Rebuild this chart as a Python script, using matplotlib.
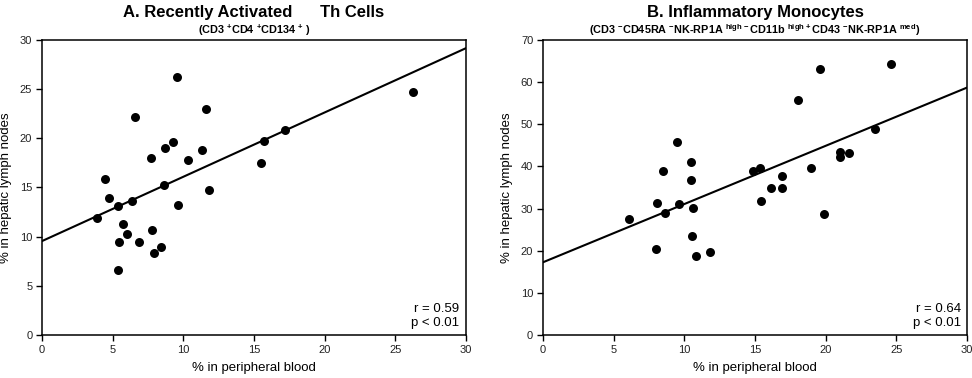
import matplotlib
matplotlib.use("Agg")
import matplotlib.pyplot as plt

plt.rcParams['font.family'] = ['Liberation Sans', 'DejaVu Sans']
plt.rcParams['mathtext.fontset'] = 'custom'
plt.rcParams['mathtext.rm'] = 'Liberation Sans:bold'
plt.rcParams['mathtext.it'] = 'Liberation Sans:bold'
plt.rcParams['mathtext.bf'] = 'Liberation Sans:bold'
plt.rcParams['mathtext.default'] = 'rm'

# -------------------------------------------------------------
# Data
# -------------------------------------------------------------
th_blood = [3.92, 4.48, 4.72, 5.38, 6.56, 6.37, 5.71, 6.01, 5.42, 5.38,
            6.86, 7.71, 7.78, 7.90, 8.44, 8.61, 8.70, 9.29, 9.55, 9.65,
            10.3, 11.3, 11.63, 11.79, 15.47, 15.68, 17.19, 26.27]
th_lymph = [11.86, 15.83, 13.9, 13.12, 22.2, 13.66, 11.29, 10.3, 9.46, 6.61,
            9.46, 18.0, 10.68, 8.37, 8.95, 15.22, 19.0, 19.63, 26.2, 13.19,
            17.8, 18.78, 23.0, 14.71, 17.49, 19.7, 20.8, 24.7]
th_fit = (9.55, 0.654)          # intercept, slope
th_stats = "r = 0.59\np < 0.01"

mono_blood = [6.08, 7.97, 8.09, 8.47, 8.61, 9.46, 9.60, 10.47, 10.47, 10.59,
              10.57, 10.85, 11.84, 14.83, 15.35, 15.42, 16.13, 16.93, 16.93, 18.02,
              18.94, 19.62, 19.90, 21.0, 21.0, 21.63, 23.51, 24.6]
mono_lymph = [27.45, 20.33, 31.4, 39.0, 28.96, 45.9, 31.1, 40.98, 36.87, 30.14,
              23.42, 18.75, 19.7, 38.84, 39.56, 31.72, 34.89, 37.74, 34.97, 55.78,
              39.72, 63.2, 28.7, 43.4, 42.2, 43.1, 48.8, 64.3]
mono_fit = (17.25, 1.382)
mono_stats = "r = 0.64\np < 0.01"

titles = ["A. Recently Activated      Th Cells", "B. Inflammatory Monocytes"]
subtitles = [r"(CD3 $^{+}$CD4 $^{+}$CD134 $^{+}$ )",
             r"(CD3 $^{-}$CD45RA $^{-}$NK-RP1A $^{high\,-}$CD11b $^{high\,+}$CD43 $^{-}$NK-RP1A $^{med}$)"]
ylims = [(0, 30), (0, 70)]
ysteps = [5, 10]
xticks = [0, 5, 10, 15, 20, 25, 30]

fig = plt.figure(figsize=(9.72, 3.78), dpi=100)
ax1 = fig.add_axes([0.0432, 0.1138, 0.4362, 0.7804])
ax2 = fig.add_axes([0.5586, 0.1138, 0.4363, 0.7804])

panels = [
    (ax1, th_blood, th_lymph, th_fit, th_stats),
    (ax2, mono_blood, mono_lymph, mono_fit, mono_stats),
]

for i, (ax, xs, ys, fit, stats) in enumerate(panels):
    ax.scatter(xs, ys, s=42, color='black', zorder=3, linewidths=0)
    a, b = fit
    ax.plot([0, 30], [a, a + b * 30], color='black', lw=1.5, zorder=2)

    ax.set_xlim(0, 30)
    ax.set_ylim(*ylims[i])
    ax.set_xticks(xticks)
    ax.set_yticks(range(ylims[i][0], ylims[i][1] + 1, ysteps[i]))
    ax.tick_params(direction='out', length=4, width=1, labelsize=8, pad=3,
                   labelcolor='#222222')
    for sp in ax.spines.values():
        sp.set_linewidth(1.1)

    ax.set_xlabel("% in peripheral blood", fontsize=9.5, labelpad=5)
    ax.set_ylabel("% in hepatic lymph nodes", fontsize=9.5, labelpad=6)

    ax.text(0.985, 0.02, stats, transform=ax.transAxes, ha='right', va='bottom',
            fontsize=9.5, linespacing=1.25)

    cx = (ax.get_position().x0 + ax.get_position().x1) / 2
    fig.text(cx, 1 - 13 / 378, titles[i], ha='center', va='center',
             fontsize=12, fontweight='bold')
    fig.text(cx, 1 - 30 / 378, subtitles[i], ha='center', va='center',
             fontsize=7.8, fontweight='bold')

fig.savefig("out.png", dpi=100)
